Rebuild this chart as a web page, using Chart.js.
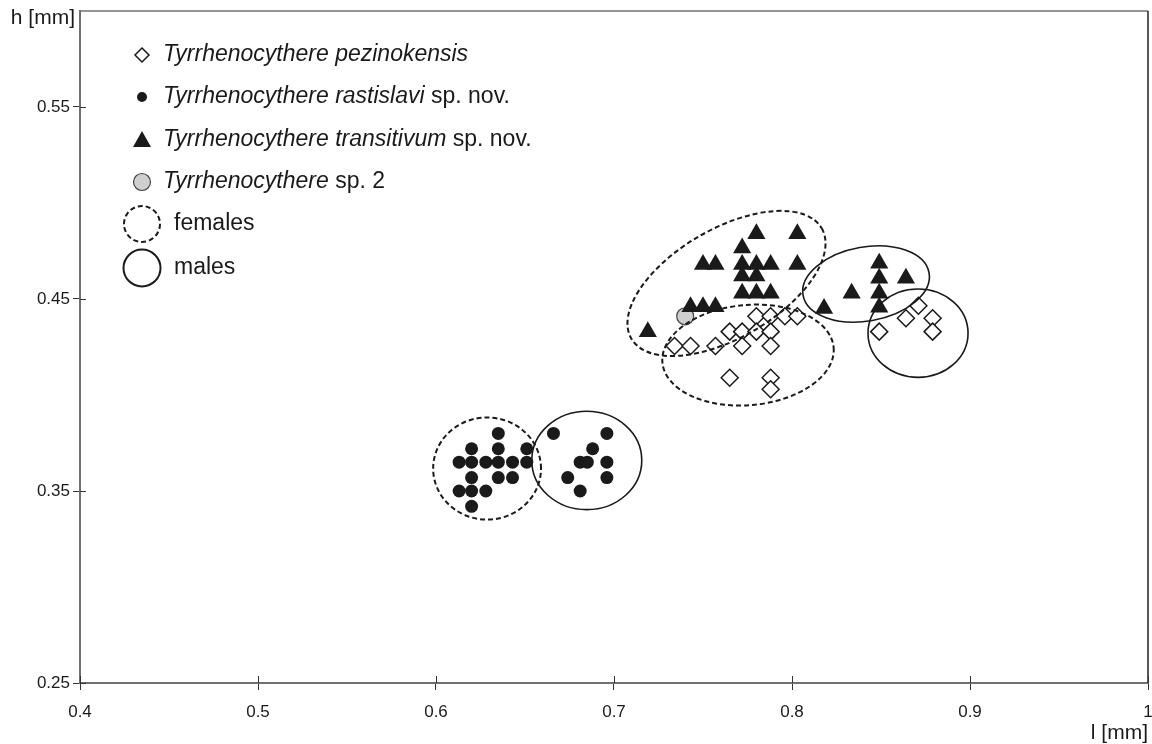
<!DOCTYPE html>
<html><head><meta charset="utf-8">
<script src="https://cdn.jsdelivr.net/npm/chart.js@4/dist/chart.umd.min.js"></script>
<style>html,body{margin:0;padding:0;background:#fff}#wrap{width:1152px;height:744px;position:relative}</style>
</head><body><div id="wrap"><canvas id="c" width="1152" height="744"></canvas></div>
<script>
// ---- tick values / labels ----
const xTicks = [0.4, 0.5, 0.6, 0.7, 0.8, 0.9, 1.0];
const xTickLabels = ['0.4', '0.5', '0.6', '0.7', '0.8', '0.9', '1'];
const yTicks = [0.25, 0.35, 0.45, 0.55];
const yTickLabels = ['0.25', '0.35', '0.45', '0.55'];

// ---- Tyrrhenocythere pezinokensis (l, h in mm) ----
const pezinokensisL = [0.780, 0.788, 0.796, 0.803, 0.765, 0.772, 0.780, 0.788, 0.734, 0.743, 0.757, 0.772, 0.788, 0.765, 0.788, 0.788,
                       0.849, 0.864, 0.871, 0.879, 0.879];
const pezinokensisH = [0.441, 0.441, 0.441, 0.441, 0.433, 0.433, 0.433, 0.433, 0.4255, 0.4255, 0.4255, 0.4255, 0.4255, 0.409, 0.409, 0.403,
                       0.433, 0.440, 0.4465, 0.440, 0.433];

// ---- Tyrrhenocythere rastislavi sp. nov. ----
const rastislaviL = [0.635, 0.620, 0.635, 0.651, 0.613, 0.620, 0.628, 0.635, 0.643, 0.651, 0.620, 0.635, 0.643, 0.613, 0.620, 0.628, 0.620,
                     0.666, 0.696, 0.688, 0.681, 0.685, 0.696, 0.674, 0.696, 0.681];
const rastislaviH = [0.380, 0.372, 0.372, 0.372, 0.365, 0.365, 0.365, 0.365, 0.365, 0.365, 0.357, 0.357, 0.357, 0.350, 0.350, 0.350, 0.342,
                     0.380, 0.380, 0.372, 0.365, 0.365, 0.365, 0.357, 0.357, 0.350];

// ---- Tyrrhenocythere transitivum sp. nov. ----
const transitivumL = [0.780, 0.803, 0.772, 0.750, 0.757, 0.772, 0.780, 0.788, 0.803, 0.772, 0.780, 0.772, 0.780, 0.788, 0.743, 0.750, 0.757, 0.719,
                      0.849, 0.849, 0.849, 0.849, 0.864, 0.8335, 0.818];
const transitivumH = [0.484, 0.484, 0.4765, 0.468, 0.468, 0.468, 0.468, 0.468, 0.468, 0.462, 0.462, 0.453, 0.453, 0.453, 0.446, 0.446, 0.446, 0.433,
                      0.4686, 0.4608, 0.453, 0.4457, 0.4608, 0.453, 0.445];

// ---- Tyrrhenocythere sp. 2 ----
const sp2L = [0.740];
const sp2H = [0.441];

// ---- group envelopes: centre (l,h) and two conjugate half-axes (in mm) ----
const envelopeCentreL = [0.6287, 0.6847, 0.7632, 0.8416, 0.7753, 0.8708];
const envelopeCentreH = [0.3617, 0.3659, 0.4581, 0.4578, 0.4208, 0.4322];
const envelopeAxisU = [[0.0303, 0], [0.0309, 0], [0.0535, 0.0287], [0.0354, 0.0058], [0.0481, 0.0039], [0.0281, 0]];
const envelopeAxisV = [[0, 0.0266], [0, 0.0256], [0.0153, -0.0246], [0.0036, -0.0190], [0.0025, -0.0260], [0, 0.0230]];
const envelopeSex = ['female', 'male', 'female', 'male', 'female', 'male'];

const zip = (a, b) => a.map((v, i) => ({x: v, y: b[i]}));
const FONT = "'Liberation Sans', Arial, sans-serif";
const INK = '#1a1a1a';

const framePlugin = {
  id: 'frame',
  beforeDatasetsDraw(chart) {
    const {ctx, chartArea: a} = chart;
    ctx.save();
    ctx.strokeStyle = '#707070';
    ctx.lineWidth = 1.5;
    ctx.beginPath();
    ctx.moveTo(a.left, a.top); ctx.lineTo(a.right, a.top);
    ctx.stroke();
    ctx.strokeStyle = '#222';
    ctx.beginPath();
    ctx.moveTo(a.right, a.top); ctx.lineTo(a.right, a.bottom);
    ctx.stroke();
    // inner half of the crossing ticks
    ctx.strokeStyle = '#333';
    ctx.lineWidth = 1;
    const xs = chart.scales.x, ys = chart.scales.y;
    xTicks.forEach(v => {
      const p = Math.round(xs.getPixelForValue(v)) + 0.5;
      ctx.beginPath(); ctx.moveTo(p, a.bottom); ctx.lineTo(p, a.bottom - 7); ctx.stroke();
    });
    yTicks.forEach(v => {
      const p = Math.round(ys.getPixelForValue(v)) + 0.5;
      ctx.beginPath(); ctx.moveTo(a.left, p); ctx.lineTo(a.left + 6, p); ctx.stroke();
    });
    // axis titles
    ctx.fillStyle = INK;
    ctx.font = '21px ' + FONT;
    ctx.textBaseline = 'middle';
    ctx.textAlign = 'right';
    ctx.fillText('h [mm]', a.left - 5, 18);
    ctx.fillText('l [mm]', a.right, 733);
    ctx.restore();
  },
  afterDatasetsDraw(chart) {
    const {ctx} = chart;
    const xs = chart.scales.x, ys = chart.scales.y;
    ctx.save();
    envelopeCentreL.forEach((cl, i) => {
      const ch = envelopeCentreH[i];
      const cx = xs.getPixelForValue(cl), cy = ys.getPixelForValue(ch);
      const u = envelopeAxisU[i], v = envelopeAxisV[i];
      const ux = xs.getPixelForValue(cl + u[0]) - cx, uy = ys.getPixelForValue(ch + u[1]) - cy;
      const vx = xs.getPixelForValue(cl + v[0]) - cx, vy = ys.getPixelForValue(ch + v[1]) - cy;
      ctx.save();
      ctx.beginPath();
      ctx.transform(ux, uy, vx, vy, cx, cy);
      ctx.arc(0, 0, 1, 0, Math.PI * 2);
      ctx.restore();
      ctx.strokeStyle = INK;
      if (envelopeSex[i] === 'female') {
        ctx.lineWidth = 2;
        ctx.setLineDash([5, 3]);
      } else {
        ctx.lineWidth = 1.6;
        ctx.setLineDash([]);
      }
      ctx.stroke();
    });
    ctx.restore();
  },
  afterDraw(chart) {
    const {ctx} = chart;
    ctx.save();
    const rows = [
      {y: 55, marker: 'diamond', parts: [['Tyrrhenocythere pezinokensis', true]]},
      {y: 97, marker: 'dot', parts: [['Tyrrhenocythere rastislavi', true], [' sp. nov.', false]]},
      {y: 140, marker: 'triangle', parts: [['Tyrrhenocythere transitivum', true], [' sp. nov.', false]]},
      {y: 182, marker: 'grey', parts: [['Tyrrhenocythere', true], [' sp. 2', false]]},
      {y: 224, marker: 'female', parts: [['females', false]]},
      {y: 268, marker: 'male', parts: [['males', false]]}
    ];
    rows.forEach(r => {
      const mx = 142, my = r.y;
      ctx.setLineDash([]);
      ctx.strokeStyle = INK;
      ctx.fillStyle = INK;
      ctx.beginPath();
      if (r.marker === 'diamond') {
        ctx.moveTo(mx, my - 7); ctx.lineTo(mx + 7, my); ctx.lineTo(mx, my + 7); ctx.lineTo(mx - 7, my); ctx.closePath();
        ctx.fillStyle = '#fff'; ctx.fill(); ctx.lineWidth = 1.5; ctx.stroke();
      } else if (r.marker === 'dot') {
        ctx.arc(mx, my, 5, 0, Math.PI * 2); ctx.fill();
      } else if (r.marker === 'triangle') {
        ctx.moveTo(mx, my - 9); ctx.lineTo(mx + 9, my + 7); ctx.lineTo(mx - 9, my + 7); ctx.closePath(); ctx.fill();
      } else if (r.marker === 'grey') {
        ctx.arc(mx, my, 8.5, 0, Math.PI * 2); ctx.fillStyle = '#cfcfcf'; ctx.fill(); ctx.lineWidth = 1.2; ctx.strokeStyle = '#444'; ctx.stroke();
      } else if (r.marker === 'female') {
        ctx.arc(mx, my, 18, 0, Math.PI * 2); ctx.lineWidth = 2; ctx.setLineDash([5, 3]); ctx.stroke();
      } else {
        ctx.arc(mx, my, 18.5, 0, Math.PI * 2); ctx.lineWidth = 2; ctx.stroke();
      }
      let tx = (r.marker === 'female' || r.marker === 'male') ? 174 : 163;
      ctx.fillStyle = INK;
      ctx.textBaseline = 'middle';
      ctx.textAlign = 'left';
      r.parts.forEach(([t, it]) => {
        ctx.font = (it ? 'italic ' : '') + '23px ' + FONT;
        ctx.fillText(t, tx, my);
        tx += ctx.measureText(t).width;
      });
    });
    ctx.restore();
  }
};

const noScalePadding = s => { s.paddingLeft = 0; s.paddingRight = 0; s.paddingTop = 0; s.paddingBottom = 0; };

new Chart(document.getElementById('c'), {
  type: 'scatter',
  data: {
    datasets: [
      {label: 'Tyrrhenocythere transitivum', data: zip(transitivumL, transitivumH), pointStyle: 'triangle', pointRadius: 10.5,
       backgroundColor: INK, borderColor: INK, borderWidth: 0},
      {label: 'Tyrrhenocythere pezinokensis', data: zip(pezinokensisL, pezinokensisH), pointStyle: 'rectRot', pointRadius: 8.5,
       backgroundColor: '#fff', borderColor: INK, borderWidth: 1.5},
      {label: 'Tyrrhenocythere rastislavi', data: zip(rastislaviL, rastislaviH), pointStyle: 'circle', pointRadius: 6.5,
       backgroundColor: INK, borderColor: INK, borderWidth: 0},
      {label: 'Tyrrhenocythere sp. 2', data: zip(sp2L, sp2H), pointStyle: 'circle', pointRadius: 8.5,
       backgroundColor: '#cfcfcf', borderColor: '#444', borderWidth: 1.2}
    ]
  },
  options: {
    responsive: false,
    animation: false,
    layout: {autoPadding: false, padding: {top: 11, right: 4, left: 0, bottom: 0}},
    plugins: {legend: {display: false}, tooltip: {enabled: false}},
    scales: {
      x: {
        type: 'linear', min: 0.4, max: 1.0,
        afterBuildTicks: s => { s.ticks = xTicks.map(v => ({value: v})); },
        afterFit: s => { s.height = 61; noScalePadding(s); },
        ticks: {callback: (v, i) => xTickLabels[i], font: {family: FONT, size: 17}, color: INK, padding: 12, maxRotation: 0, autoSkip: false},
        grid: {drawOnChartArea: false, tickLength: 7, color: '#333', lineWidth: 1},
        border: {color: '#707070', width: 2}
      },
      y: {
        type: 'linear', min: 0.25, max: 0.6,
        afterBuildTicks: s => { s.ticks = yTicks.map(v => ({value: v})); },
        afterFit: s => { s.width = 80; noScalePadding(s); },
        ticks: {callback: (v, i) => yTickLabels[i], font: {family: FONT, size: 17}, color: INK, padding: 3, autoSkip: false},
        grid: {drawOnChartArea: false, tickLength: 7, color: '#333', lineWidth: 1},
        border: {color: '#707070', width: 2}
      }
    }
  },
  plugins: [framePlugin]
});
</script>
</body></html>
